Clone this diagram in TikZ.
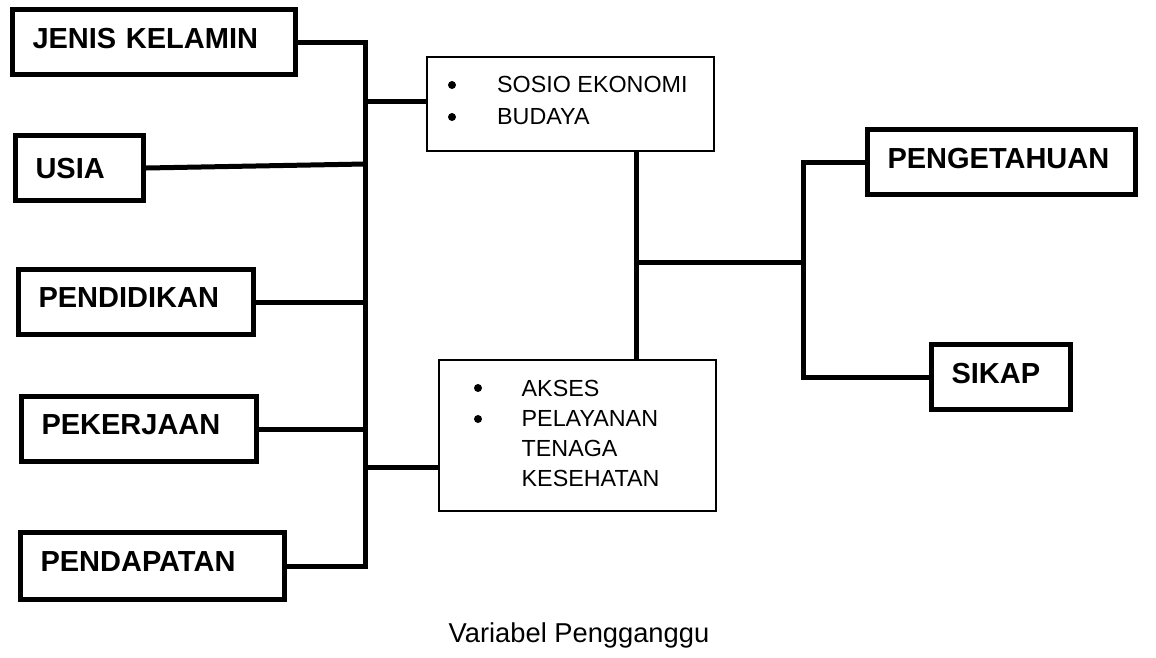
\documentclass[tikz,border=0pt]{standalone}
\usepackage{fontspec}
\setmainfont{Liberation Sans}
\begin{document}
\begin{tikzpicture}[x=1pt,y=-1pt,
  varbox/.style={draw, line width=5pt, minimum height=65pt, inner xsep=20pt, inner ysep=0pt,
    align=left, text depth=8pt, font=\fontsize{29}{34}\selectfont\bfseries},
  infobox/.style={draw, line width=2pt, inner sep=0pt},
  itemtext/.style={anchor=base west, inner sep=0pt, font=\fontsize{23.3}{28}\selectfont},
  bulletdot/.style={fill=black},
  conn/.style={line width=5pt}]
\fill[white] (0,0) rectangle (1156,657);
\useasboundingbox (0,0) rectangle (1156,657);

% left variables
\node[varbox, text width=243pt, minimum width=283pt] (jk) at (154,42) {JENIS KELAMIN};
\node[varbox, text width=88pt, minimum width=128pt, text depth=0pt] (us) at (79.5,168) {USIA};
\node[varbox, text width=195pt, minimum width=235pt] (pdk) at (136,302) {PENDIDIKAN};
\node[varbox, text width=195pt, minimum width=235pt] (pkj) at (139,429) {PEKERJAAN};
\node[varbox, text width=224pt, minimum width=264pt, minimum height=67pt] (pdp) at (152.5,566) {PENDAPATAN};

% right variables
\node[varbox, text width=228pt, minimum width=268pt] (peng) at (1001.5,162) {PENGETAHUAN};
\node[varbox, text width=99pt, minimum width=139pt] (sikap) at (1001,377) {SIKAP};

% confounder boxes
\node[infobox, minimum width=287pt, minimum height=94pt] (sosio) at (570.5,104) {};
\node[infobox, minimum width=277pt, minimum height=151pt] (akses) at (577.5,435.5) {};

\node[itemtext] (s1) at (497,92.5) {SOSIO EKONOMI};
\node[itemtext] (s2) at (497,124.5) {BUDAYA};
\node[itemtext] (a1) at (521.5,396.5) {AKSES};
\node[itemtext] (a2) at (521.5,426.5) {PELAYANAN};
\node[itemtext] (a3) at (521.5,456.5) {TENAGA};
\node[itemtext] (a4) at (521.5,486.5) {KESEHATAN};

\fill[bulletdot] (452,85) circle[radius=4pt];
\fill[bulletdot] (452,117) circle[radius=4pt];
\fill[bulletdot] (478,388) circle[radius=4pt];
\fill[bulletdot] (478,419) circle[radius=4pt];

\node[anchor=base, inner sep=0pt, font=\fontsize{27.3}{32}\selectfont] (cap) at (579,642.5) {Variabel Pengganggu};

% connectors
\coordinate (t1) at (365,42);
\coordinate (t2) at (365,566);
\coordinate (tu) at (365,164);
\coordinate (c1) at (365,101);
\coordinate (c2) at (365,467);
\coordinate (m) at (636,262);
\coordinate (r) at (803,262);

\draw[conn] (jk.east) -- (t1) -- (t2) -- (pdp.east);
\draw[conn] (us.east) -- (tu);
\draw[conn] (pdk.east) -- (pdk.east -| t1);
\draw[conn] (pkj.east) -- (pkj.east -| t1);
\draw[conn] (c1) -- (sosio.west |- c1);
\draw[conn] (c2) -- (akses.west |- c2);
\draw[conn] (sosio.south -| m) -- (akses.north -| m);
\draw[conn] (m) -- (r);
\draw[conn] (peng.west) -- (peng.west -| r) -- (sikap.west -| r) -- (sikap.west);
\end{tikzpicture}
\end{document}
